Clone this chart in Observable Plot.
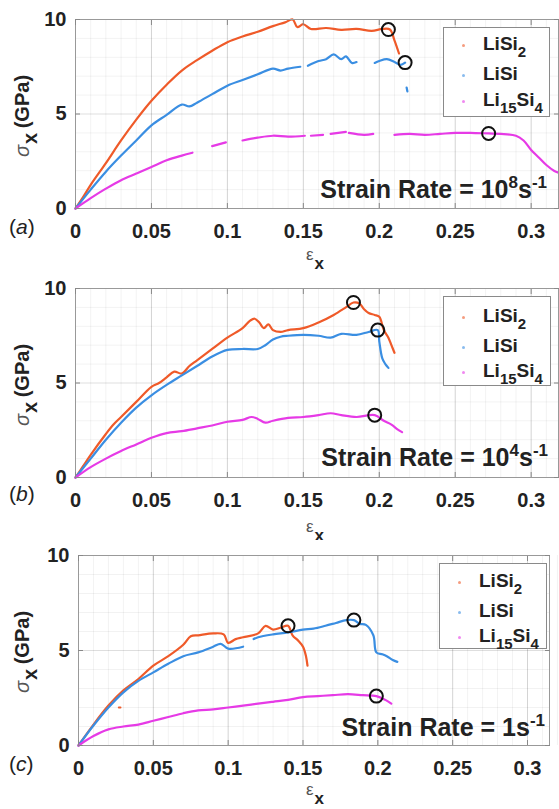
<!DOCTYPE html>
<html><head><meta charset="utf-8">
<script src="https://cdn.jsdelivr.net/npm/d3@7"></script>
<script src="https://cdn.jsdelivr.net/npm/@observablehq/plot@0.6"></script>
<style>
html,body{margin:0;padding:0;background:#fff;}
#wrap{position:relative;width:559px;height:809px;overflow:hidden;font-family:Arial,"Liberation Sans",Helvetica,sans-serif;color:#222;}
.panel{position:absolute;left:0;width:559px;}
.ov{position:absolute;white-space:nowrap;}
.legend{position:absolute;border:1px solid #8a8a8a;background:#fff;box-sizing:border-box;}
.lrow{position:absolute;font-weight:bold;font-size:19px;line-height:19px;}
.lrow sub{font-size:15px;vertical-align:-7px;line-height:0;}
.ldot{position:absolute;width:3px;height:3px;border-radius:50%;}
.rate{font-weight:bold;font-size:25px;line-height:25px;}
.rate sup{font-size:17px;vertical-align:10px;line-height:0;}
.plab{font-size:21px;line-height:21px;}
.xlab{font-size:17px;line-height:17px;}
.ylab{font-size:20px;line-height:20px;transform:translate(-50%,-50%) rotate(-90deg);transform-origin:center;}
</style>
</head><body>
<div id="wrap"></div>
<script>
// ---------- tick labels ----------
const xTicks = [0, 0.05, 0.1, 0.15, 0.2, 0.25, 0.3];
const yTicks = [0, 5, 10];
const xMinor = d3.range(0, 0.3201, 0.01);
const yMinor = [1, 2, 3, 4, 6, 7, 8, 9];
const seriesNames = ["LiSi2", "LiSi", "Li15Si4"];
const seriesColors = ["#EF5A29", "#3A8EE2", "#E63AE6"];

// ---------- panel (a): strain rate 1e8 /s ----------
const xA_LiSi2 = [0,0.005,0.01,0.02,0.03,0.04,0.05,0.06,0.07,0.08,0.09,0.1,0.11,0.12,0.13,0.138,0.143,0.146,0.15,0.155,0.165,0.175,0.185,0.195,0.202,0.207,0.21,0.213];
const yA_LiSi2 = [0,0.6,1.25,2.4,3.6,4.7,5.7,6.55,7.3,7.85,8.35,8.8,9.1,9.35,9.65,9.85,10.0,9.6,9.75,9.5,9.55,9.45,9.5,9.4,9.5,9.47,8.9,8.2];
const xA_LiSi = [0,0.01,0.02,0.03,0.04,0.05,0.06,0.07,0.075,0.08,0.09,0.1,0.11,0.12,0.13,0.135,0.14,0.148,0.15,0.153,0.16,0.165,0.17,0.175,0.178,0.182,0.185,0.187,0.197,0.2,0.205,0.21,0.214,0.217,0.2175,0.218,0.2185];
const yA_LiSi = [0,1.0,1.95,2.8,3.6,4.4,4.95,5.5,5.4,5.6,6.05,6.5,6.8,7.1,7.4,7.3,7.4,7.5,null,7.55,7.8,7.9,8.15,7.9,8.05,7.7,7.75,null,7.7,7.8,7.9,7.75,7.6,7.72,null,6.4,6.2];
const xA_Li15Si4 = [0,0.01,0.02,0.03,0.04,0.05,0.06,0.07,0.077,0.079,0.09,0.099,0.101,0.11,0.12,0.13,0.14,0.151,0.153,0.155,0.163,0.165,0.168,0.178,0.179,0.18,0.19,0.196,0.2,0.21,0.22,0.23,0.24,0.25,0.26,0.272,0.28,0.29,0.295,0.3,0.305,0.31,0.315,0.318];
const yA_Li15Si4 = [0,0.55,1.05,1.5,1.85,2.2,2.55,2.8,2.95,null,3.3,3.5,null,3.6,3.75,3.85,3.8,3.85,null,3.85,3.9,null,3.95,4.05,null,4.0,3.9,3.95,null,3.9,3.95,3.9,3.95,4.0,4.0,3.97,3.95,3.85,3.6,3.1,2.7,2.3,2.0,1.9];
const xA_fail = [0.206, 0.217, 0.272];
const yA_fail = [9.47, 7.72, 3.97];

// ---------- panel (b): strain rate 1e4 /s ----------
const xB_LiSi2 = [0,0.005,0.01,0.02,0.025,0.03,0.04,0.05,0.055,0.06,0.065,0.07,0.075,0.08,0.09,0.1,0.11,0.115,0.118,0.121,0.124,0.127,0.13,0.135,0.14,0.15,0.16,0.17,0.178,0.183,0.187,0.19,0.193,0.197,0.2,0.203,0.206,0.208,0.21];
const yB_LiSi2 = [0,0.6,1.2,2.3,2.8,3.2,4.0,4.8,5.0,5.3,5.6,5.5,5.9,6.2,6.8,7.4,7.9,8.3,8.4,8.2,7.9,8.1,7.8,7.7,7.8,7.9,8.2,8.6,9.0,9.26,9.2,8.9,8.7,8.6,8.5,7.8,7.4,7.0,6.6];
const xB_LiSi = [0,0.01,0.02,0.03,0.04,0.05,0.06,0.07,0.08,0.09,0.1,0.11,0.12,0.125,0.13,0.135,0.14,0.15,0.16,0.168,0.175,0.185,0.193,0.199,0.2,0.202,0.204,0.206];
const yB_LiSi = [0,1.0,2.0,2.9,3.7,4.35,4.9,5.4,5.9,6.4,6.75,6.8,6.8,7.0,7.3,7.45,7.5,7.55,7.5,7.4,7.6,7.55,7.7,7.8,7.2,6.3,6.0,5.8];
const xB_Li15Si4 = [0,0.01,0.02,0.03,0.04,0.05,0.06,0.07,0.08,0.09,0.1,0.11,0.116,0.12,0.125,0.13,0.14,0.15,0.16,0.168,0.175,0.185,0.197,0.203,0.208,0.212,0.215];
const yB_Li15Si4 = [0,0.55,1.0,1.4,1.75,2.1,2.35,2.45,2.6,2.75,2.95,3.05,3.2,3.1,2.9,3.0,3.15,3.2,3.3,3.4,3.3,3.2,3.3,3.0,2.8,2.55,2.4];
const xB_fail = [0.183, 0.199, 0.197];
const yB_fail = [9.26, 7.8, 3.3];

// ---------- panel (c): strain rate 1 /s ----------
const xC_LiSi2 = [0,0.01,0.02,0.03,0.04,0.05,0.06,0.07,0.075,0.08,0.09,0.097,0.1,0.105,0.11,0.12,0.125,0.13,0.135,0.14,0.143,0.147,0.15,0.152,0.153,0.154,0.027,0.028];
const yC_LiSi2 = [0,1.1,2.1,2.9,3.5,4.2,4.7,5.3,5.75,5.8,5.9,5.85,5.4,5.6,5.7,5.9,6.3,6.1,6.2,6.3,5.8,5.5,5.2,4.7,4.2,null,2.0,2.0];
const xC_LiSi = [0,0.01,0.02,0.03,0.04,0.05,0.06,0.07,0.08,0.09,0.095,0.1,0.11,0.112,0.117,0.12,0.13,0.14,0.15,0.157,0.165,0.172,0.179,0.184,0.188,0.192,0.197,0.199,0.203,0.206,0.21,0.213];
const yC_LiSi = [0,1.05,2.0,2.8,3.4,3.85,4.3,4.7,4.9,5.2,5.35,5.1,5.2,null,5.6,5.7,5.85,5.95,6.1,6.15,6.3,6.45,6.6,6.6,6.4,6.35,5.8,4.9,4.8,4.7,4.5,4.4];
const xC_Li15Si4 = [0,0.01,0.02,0.03,0.04,0.05,0.06,0.07,0.08,0.09,0.1,0.11,0.12,0.13,0.14,0.15,0.16,0.17,0.18,0.19,0.199,0.205,0.209];
const yC_Li15Si4 = [0,0.5,0.85,1.0,1.1,1.3,1.5,1.7,1.85,1.9,2.0,2.1,2.2,2.3,2.4,2.55,2.6,2.65,2.7,2.65,2.6,2.4,2.2];
const xC_fail = [0.14, 0.184, 0.199];
const yC_fail = [6.3, 6.6, 2.6];

const rateLabels = [["10","8"],["10","4"],["1",""]];
const panelLabels = ["a","b","c"];

// ---------- layout ----------
const panels = [
  {top:0, h:270, mt:19, mb:62, ml:75, mr:1, xmax:0.318,
   series:[[xA_LiSi2,yA_LiSi2],[xA_LiSi,yA_LiSi],[xA_Li15Si4,yA_Li15Si4]], fail:[xA_fail,yA_fail],
   legend:{l:443,t:27,w:107,h:90,rows:[45,75,101]}, rate:{r:12,base:197}, plab:233, xl:246},
  {top:270, h:270, mt:18, mb:63, ml:75, mr:1, xmax:0.318,
   series:[[xB_LiSi2,yB_LiSi2],[xB_LiSi,yB_LiSi],[xB_Li15Si4,yB_Li15Si4]], fail:[xB_fail,yB_fail],
   legend:{l:443,t:26,w:108,h:90,rows:[47,77,102]}, rate:{r:11,base:195}, plab:230, xl:248},
  {top:540, h:269, mt:15, mb:64, ml:78, mr:10, xmax:0.3147,
   series:[[xC_LiSi2,yC_LiSi2],[xC_LiSi,yC_LiSi],[xC_Li15Si4,yC_Li15Si4]], fail:[xC_fail,yC_fail],
   legend:{l:439,t:23,w:108,h:86,rows:[42,72,97]}, rate:{r:14,base:195}, plab:230, xl:241}
];

const wrap = document.getElementById("wrap");
const fmt = d3.format("~g");

panels.forEach((p, pi) => {
  const div = document.createElement("div");
  div.className = "panel";
  div.style.top = p.top + "px";
  div.style.height = p.h + "px";
  wrap.appendChild(div);

  const lines = p.series.map(([xs, ys], si) =>
    Plot.line(xs.map((x, i) => ({x, y: ys[i]})), {x: "x", y: "y", stroke: seriesColors[si], strokeWidth: 2.2, strokeLinejoin: "round", curve: "catmull-rom"}));
  const fails = p.fail[0].map((x, i) => ({x, y: p.fail[1][i]}));
  const tickStyle = {fontSize: 20, fontWeight: "bold", fill: "#222"};

  const chart = Plot.plot({
    width: 559, height: p.h,
    marginLeft: p.ml, marginRight: p.mr, marginTop: p.mt, marginBottom: p.mb,
    x: {domain: [0, p.xmax]},
    y: {domain: [0, 10]},
    style: {background: "#fff", fontFamily: "Arial, 'Liberation Sans', sans-serif", overflow: "visible"},
    marks: [
      Plot.gridX(xMinor, {stroke: "#000", strokeOpacity: 0.05}),
      Plot.gridY(yMinor, {stroke: "#000", strokeOpacity: 0.05}),
      Plot.gridX(xTicks, {stroke: "#000", strokeOpacity: 0.13}),
      Plot.gridY(yTicks, {stroke: "#000", strokeOpacity: 0.13}),
      ...lines,
      Plot.dot(fails, {x: "x", y: "y", r: 6.5, stroke: "#111", strokeWidth: 2, fill: "none"}),
      Plot.frame({stroke: "#999"}),
      Plot.axisX(xTicks, {anchor: "bottom", tickSize: 0, tickPadding: 15, tickFormat: fmt, label: null, ...tickStyle}),
      Plot.axisX(xTicks, {anchor: "bottom", tickSize: -5, tickFormat: () => "", label: null, stroke: "#888"}),
      Plot.axisX(xTicks, {anchor: "top", tickSize: -5, tickFormat: () => "", label: null, stroke: "#888"}),
      Plot.axisY(yTicks, {anchor: "left", tickSize: 0, tickPadding: 9, tickFormat: fmt, label: null, ...tickStyle}),
      Plot.axisY(yTicks, {anchor: "left", tickSize: -5, tickFormat: () => "", label: null, stroke: "#888"}),
      Plot.axisY(yTicks, {anchor: "right", tickSize: -5, tickFormat: () => "", label: null, stroke: "#888"})
    ]
  });
  chart.style.position = "absolute";
  chart.style.left = "0px";
  chart.style.top = "0px";
  div.appendChild(chart);

  // legend
  const lg = document.createElement("div");
  lg.className = "legend";
  Object.assign(lg.style, {left: p.legend.l + "px", top: p.legend.t + "px", width: p.legend.w + "px", height: p.legend.h + "px"});
  div.appendChild(lg);
  const labelsHTML = ["LiSi<sub>2</sub>", "LiSi", "Li<sub>15</sub>Si<sub>4</sub>"];
  seriesNames.forEach((n, si) => {
    const cy = p.legend.rows[si];
    const dot = document.createElement("div");
    dot.className = "ldot";
    Object.assign(dot.style, {left: (p.legend.l + 19) + "px", top: (cy - 1) + "px", background: seriesColors[si], opacity: 0.6});
    div.appendChild(dot);
    const t = document.createElement("div");
    t.className = "ov lrow";
    t.innerHTML = labelsHTML[si];
    Object.assign(t.style, {left: (p.legend.l + 40) + "px", top: (cy - 11) + "px"});
    div.appendChild(t);
  });

  // strain rate text
  const r = document.createElement("div");
  r.className = "ov rate";
  const [base, exp] = rateLabels[pi];
  r.innerHTML = "Strain Rate = " + base + (exp ? "<sup>" + exp + "</sup>" : "") + "s<sup>-1</sup>";
  Object.assign(r.style, {right: p.rate.r + "px", top: (p.rate.base - 20) + "px"});
  div.appendChild(r);

  // panel label
  const pl = document.createElement("div");
  pl.className = "ov plab";
  pl.innerHTML = "(<i>" + panelLabels[pi] + "</i>)";
  Object.assign(pl.style, {left: "9px", top: (p.plab - 17) + "px"});
  div.appendChild(pl);

  // x label
  const xl = document.createElement("div");
  xl.className = "ov xlab";
  xl.innerHTML = '<span style="color:#555">&epsilon;</span><span style="font-weight:bold;position:relative;top:9px;left:1px">x</span>';
  Object.assign(xl.style, {left: "306px", top: p.xl + "px"});
  div.appendChild(xl);

  // y label
  const yl = document.createElement("div");
  yl.className = "ov ylab";
  yl.innerHTML = '<i style="color:#555;font-weight:normal">&sigma;</i><span style="font-weight:bold;position:relative;top:8px;left:1px">x</span><span style="font-weight:bold"> (GPa)</span>';
  Object.assign(yl.style, {left: "22px", top: (p.mt + 97) + "px"});
  div.appendChild(yl);
});
</script>
</body></html>
